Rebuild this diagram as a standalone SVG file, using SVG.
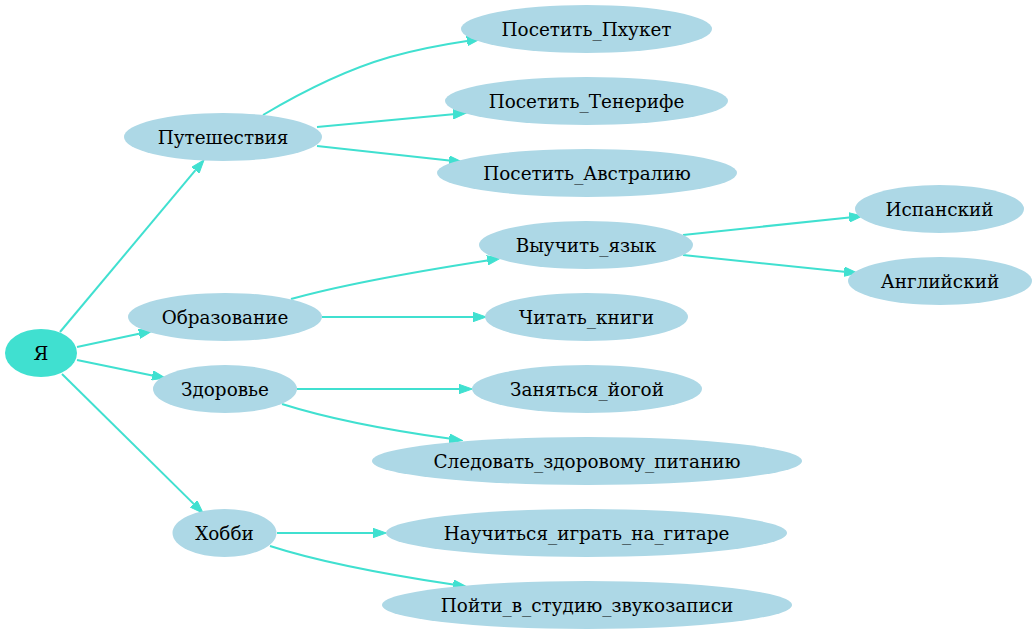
<svg xmlns="http://www.w3.org/2000/svg" width="1036" height="635" viewBox="0 0 1036 635">
<style>
.n ellipse{fill:#add8e6;stroke:none}
.n.root ellipse{fill:#40e0d0}
.n text{font-family:"DejaVu Serif","Liberation Serif",serif;font-size:18.4px;fill:#000;text-anchor:middle}
.e path{fill:none;stroke:#40e0d0;stroke-width:2}
</style>
<defs>
<marker id="ah" viewBox="0 -5 14 10" refX="0" refY="0" markerWidth="14" markerHeight="10" markerUnits="userSpaceOnUse" orient="auto">
<path d="M0,-4.7 L13.3,0 L0,4.7 Z" fill="#40e0d0" stroke="#40e0d0" stroke-width="1"/>
</marker>
</defs>
<rect width="1036" height="635" fill="#fff"/>
<g id="edges" class="e">
<path d="M60,332 L195.5,170.2" marker-end="url(#ah)"/>
<path d="M77,347 L139,333.8" marker-end="url(#ah)"/>
<path d="M77,360 L152.3,375.4" marker-end="url(#ah)"/>
<path d="M62,374 L193.7,503.9" marker-end="url(#ah)"/>
<path d="M263,115 C300,93 345,70 390,57 C415,50 440,45 467,41" marker-end="url(#ah)"/>
<path d="M317,127 L453,114.2" marker-end="url(#ah)"/>
<path d="M317,146 L449.1,160.6" marker-end="url(#ah)"/>
<path d="M291,299 C330,288 400,274 487.2,260.4" marker-end="url(#ah)"/>
<path d="M322,317 L473,317" marker-end="url(#ah)"/>
<path d="M297,389 L459,389" marker-end="url(#ah)"/>
<path d="M282,404 C320,416 380,429 449.2,438.6" marker-end="url(#ah)"/>
<path d="M277,533 L373,533" marker-end="url(#ah)"/>
<path d="M270,546 C310,559 370,572 453.2,584.6" marker-end="url(#ah)"/>
<path d="M683,235 L849.1,217.4" marker-end="url(#ah)"/>
<path d="M683,255 L844.1,271.7" marker-end="url(#ah)"/>
</g>
<g id="n_ya" class="n root"><ellipse cx="41" cy="353" rx="36" ry="24"/><text x="41" y="359.5">Я</text></g>
<g id="n_travel" class="n"><ellipse cx="223" cy="137" rx="99" ry="24"/><text x="223" y="143.5">Путешествия</text></g>
<g id="n_edu" class="n"><ellipse cx="225" cy="317" rx="97" ry="24"/><text x="225" y="323.5">Образование</text></g>
<g id="n_health" class="n"><ellipse cx="225" cy="389" rx="72" ry="24"/><text x="225" y="395.5">Здоровье</text></g>
<g id="n_hobby" class="n"><ellipse cx="224.5" cy="533" rx="52" ry="24"/><text x="224.5" y="539.5">Хобби</text></g>
<g id="n_phuket" class="n"><ellipse cx="586.5" cy="29" rx="125.5" ry="24"/><text x="586.5" y="35.5">Посетить_Пхукет</text></g>
<g id="n_tenerife" class="n"><ellipse cx="586.5" cy="101" rx="141.5" ry="24"/><text x="586.5" y="107.5">Посетить_Тенерифе</text></g>
<g id="n_australia" class="n"><ellipse cx="587" cy="173" rx="150" ry="24"/><text x="587" y="179.5">Посетить_Австралию</text></g>
<g id="n_lang" class="n"><ellipse cx="586" cy="245" rx="107" ry="24"/><text x="586" y="251.5">Выучить_язык</text></g>
<g id="n_books" class="n"><ellipse cx="586.5" cy="317" rx="101.5" ry="24"/><text x="586.5" y="323.5">Читать_книги</text></g>
<g id="n_yoga" class="n"><ellipse cx="587" cy="389" rx="115" ry="24"/><text x="587" y="395.5">Заняться_йогой</text></g>
<g id="n_food" class="n"><ellipse cx="587" cy="461" rx="215" ry="24"/><text x="587" y="467.5">Следовать_здоровому_питанию</text></g>
<g id="n_guitar" class="n"><ellipse cx="586.5" cy="533" rx="200.5" ry="24"/><text x="586.5" y="539.5">Научиться_играть_на_гитаре</text></g>
<g id="n_studio" class="n"><ellipse cx="587" cy="605" rx="205" ry="24"/><text x="587" y="611.5">Пойти_в_студию_звукозаписи</text></g>
<g id="n_spanish" class="n"><ellipse cx="939.5" cy="209" rx="84.5" ry="24"/><text x="939.5" y="215.5">Испанский</text></g>
<g id="n_english" class="n"><ellipse cx="940" cy="281" rx="92" ry="24"/><text x="940" y="287.5">Английский</text></g>
</svg>
